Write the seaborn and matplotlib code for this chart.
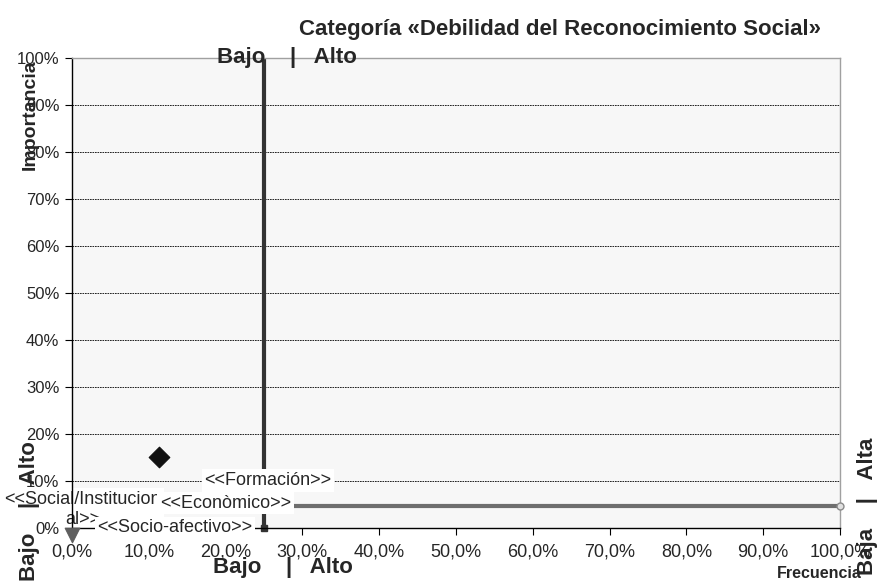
import matplotlib
matplotlib.use("Agg")
import matplotlib.pyplot as plt
import seaborn as sns
import pandas as pd
from matplotlib.ticker import FuncFormatter, MultipleLocator

# data (fractions)
dimensions = ["Formación", "Social/Institucional"]
frecuencia = [0.113, 0.0]
importancia = [0.151, -0.015]
marker_kind = ["D", "v"]
marker_color = ["#111111", "#5f5f5f"]

# quadrant split lines
split_x = [0.25, 0.25]
split_x_y = [0.0, 1.0]
split_y_x = [0.25, 1.0]
split_y = [0.047, 0.047]

label_texts = ["<<Formación>>", "<<Econòmico>>", "<<Socio-afectivo>>",
               "<<Social/Institucion\nal>>"]

sns.set_style("white")
plt.rcParams["font.family"] = ["Liberation Sans", "DejaVu Sans"]

fig = plt.figure(figsize=(8.79, 5.82), dpi=100)
ax = fig.add_axes([72 / 879, 1 - 528 / 582, 768 / 879, 470 / 582])
ax.set_facecolor("#f7f7f7")

ax.set_xlim(0, 1)
ax.set_ylim(0, 1)
ax.xaxis.set_major_locator(MultipleLocator(0.1))
ax.yaxis.set_major_locator(MultipleLocator(0.1))
ax.xaxis.set_major_formatter(FuncFormatter(lambda v, p: f"{v*100:.1f}%".replace(".", ",")))
ax.yaxis.set_major_formatter(FuncFormatter(lambda v, p: f"{v*100:.0f}%"))
ax.tick_params(axis="y", labelsize=12, length=5, width=0.8, direction="out",
               color="black", left=True, pad=4)
ax.tick_params(axis="x", labelsize=13, length=5, width=0.8, direction="out",
               color="black", bottom=True, pad=6)
ax.grid(axis="y", color="black", linestyle=(0, (2, 1)), linewidth=0.6)
ax.set_axisbelow(True)

for side in ["top", "right"]:
    ax.spines[side].set_color("#a0a0a0")
    ax.spines[side].set_linewidth(1)
for side in ["left", "bottom"]:
    ax.spines[side].set_color("black")
    ax.spines[side].set_linewidth(1)

# quadrant lines
vline = pd.DataFrame({"x": split_x, "y": split_x_y})
hline = pd.DataFrame({"x": split_y_x, "y": split_y})
sns.lineplot(data=vline, x="x", y="y", ax=ax, color="#333333", linewidth=3,
             sort=False, estimator=None)
ax.plot(split_x[0], split_x_y[0], marker="s", markersize=4, color="#333333", clip_on=False)
sns.lineplot(data=hline, x="x", y="y", ax=ax, color="#6e6e6e", linewidth=3,
             sort=False, estimator=None)
ax.plot(split_y_x[-1], split_y[-1], marker="o", markersize=5, markerfacecolor="#e0e0e0",
        markeredgecolor="#8a8a8a", clip_on=False, zorder=5)

pts = pd.DataFrame({"dim": dimensions, "x": frecuencia, "y": importancia})
for i, row in pts.iterrows():
    sns.scatterplot(data=pts.iloc[[i]], x="x", y="y", ax=ax, marker=marker_kind[i],
                    color=marker_color[i], s=110, edgecolor=marker_color[i],
                    clip_on=False, zorder=6)

ax.set_xlabel("")
ax.set_ylabel("")

# data labels (as placed in the original chart)
box = dict(facecolor="white", edgecolor="none", pad=2)
ax.text(0.014, 0.040, label_texts[3], fontsize=13, ha="center", va="center",
        bbox=box, zorder=0.4, clip_on=False, linespacing=1.2)
ax.text(0.255, 0.101, label_texts[0], fontsize=13, ha="center", va="center",
        bbox=box, zorder=8)
ax.text(0.20, 0.053, label_texts[1], fontsize=13, ha="center", va="center",
        bbox=box, zorder=8)
ax.text(0.134, 0.0, label_texts[2], fontsize=13, ha="center", va="center",
        bbox=box, zorder=8, clip_on=False)

# titles and axis annotations
fig.text(560 / 879, 1 - 30 / 582, "Categoría «Debilidad del Reconocimiento Social»",
         fontsize=16, fontweight="bold", ha="center", va="center")
fig.text(287 / 879, 1 - 57 / 582, "Bajo    |   Alto", fontsize=16, fontweight="bold",
         ha="center", va="center")
fig.text(283 / 879, 1 - 568 / 582, "Bajo    |   Alto", fontsize=16, fontweight="bold",
         ha="center", va="center")
fig.text(30 / 879, 1 - 115 / 582, "Importancia", fontsize=14, fontweight="bold",
         rotation=90, ha="center", va="center")
fig.text(862 / 879, 1 - 573 / 582, "Frecuencia", fontsize=11.5, fontweight="bold",
         ha="right", va="center")
fig.text(868 / 879, 1 - 506 / 582, "Baja    |   Alta", fontsize=16, fontweight="bold",
         rotation=90, ha="center", va="center")
fig.text(30 / 879, 1 - 511 / 582, "Bajo    |   Alto", fontsize=16, fontweight="bold",
         rotation=90, ha="center", va="center")

fig.savefig("out.png", dpi=100)
